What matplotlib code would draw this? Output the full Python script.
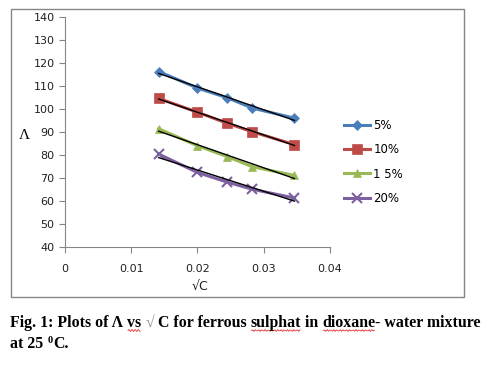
import numpy as np
import matplotlib
matplotlib.use("Agg")
import matplotlib.pyplot as plt
from matplotlib.patches import Rectangle

sqrt_c = [0.01414, 0.02, 0.02449, 0.02828, 0.03464]
series_names = ["5%", "10%", "1 5%", "20%"]
lam_5 = [116.3, 109.1, 104.9, 100.4, 96.0]
lam_10 = [104.6, 98.6, 93.8, 90.1, 84.5]
lam_15 = [91.4, 84.0, 79.3, 74.9, 71.1]
lam_20 = [80.4, 72.4, 68.2, 65.1, 61.3]
series_vals = [lam_5, lam_10, lam_15, lam_20]
colors = ["#4A7EBB", "#BE4B48", "#98B954", "#7D60A0"]
markers = ["D", "s", "^", "x"]
msizes = [5, 7, 6, 7]
y_ticks = list(range(40, 141, 10))
x_ticks = [0, 0.01, 0.02, 0.03, 0.04]
x_ticklabels = ["0", "0.01", "0.02", "0.03", "0.04"]

W, H = 492, 366
fig = plt.figure(figsize=(W / 100, H / 100), dpi=100)
ax = fig.add_axes([65 / W, 1 - 247 / H, (330 - 65) / W, (247 - 17) / H])

x = np.array(sqrt_c)
handles = []
for name, vals, c, m, ms in zip(series_names, series_vals, colors, markers, msizes):
    h, = ax.plot(x, vals, color=c, lw=2.2, marker=m, ms=ms, mew=1.5 if m == "x" else 0.5,
                 mec=c, mfc=c, label=name, zorder=3)
    handles.append(h)
for vals in series_vals:
    k, b = np.polyfit(x, vals, 1)
    ax.plot(x[[0, -1]], k * x[[0, -1]] + b, color="black", lw=1.0, zorder=4)

ax.set_xlim(0, 0.04)
ax.set_ylim(40, 140)
ax.set_xticks(x_ticks)
ax.set_xticklabels(x_ticklabels)
ax.set_yticks(y_ticks)
for s in ["top", "right"]:
    ax.spines[s].set_visible(False)
for s in ["left", "bottom"]:
    ax.spines[s].set_color("#868686")
    ax.spines[s].set_linewidth(0.8)
ax.tick_params(direction="out", length=4, width=0.8, color="#868686", labelsize=8,
               labelcolor="#202020")
ax.tick_params(axis="x", pad=8)

fig.text(24 / W, 1 - 135 / H, "Λ", fontsize=11, family="Liberation Serif",
         ha="center", va="center")
fig.text(200 / W, 1 - 286 / H, "√C", fontsize=9, family="DejaVu Sans",
         ha="center", va="center", color="#202020")

leg = fig.legend(handles=handles, loc="upper left", bbox_to_anchor=(339 / W, 1 - 114 / H),
                 frameon=False, fontsize=8.5, handlelength=2.2, labelspacing=0.97,
                 handletextpad=0.3, borderaxespad=0)

fig.patches.append(Rectangle((11 / W, 1 - 297 / H), (464 - 11) / W, (297 - 9) / H,
                             transform=fig.transFigure, fill=False, ec="#868686", lw=1.0))

# caption, built from pieces
renderer = fig.canvas.get_renderer()
FS = 11.4


def put(xpx, ybase, s, size=FS, weight="bold", color="black", dy=0, wavy=False):
    t = fig.text(xpx / W, 1 - (ybase - dy) / H, s, fontsize=size, family="Liberation Serif",
                 weight=weight, va="baseline", ha="left", color=color)
    bb = t.get_window_extent(renderer)
    if wavy:
        xs = np.linspace(bb.x0 + 1, bb.x1 - 1, 40)
        ys = (H - ybase - 3.5) + 0.9 * np.sin((xs - xs[0]) * np.pi / 1.6)
        fig.add_artist(plt.Line2D(xs / W, ys / H, transform=fig.transFigure,
                                  color="#E03030", lw=0.6))
    return bb.x1


xp = 10
xp = put(xp, 327, "Fig. 1: Plots of Λ ")
xp = put(xp, 327, "vs", wavy=True)
xp = put(xp, 327, " ")
xp = put(xp, 327, "√", weight="normal", color="#909090")
xp = put(xp, 327, " C for ferrous ")
xp = put(xp, 327, "sulphat", wavy=True)
xp = put(xp, 327, " in ")
xp = put(xp, 327, "dioxane", wavy=True)
xp = put(xp, 327, "- water mixture")

xp = put(10, 348, "at 25 ")
xp = put(xp + 0.5, 348, "0", size=7.5, dy=5)
xp = put(xp + 0.5, 348, "C.")

fig.savefig("out.png", dpi=100)
